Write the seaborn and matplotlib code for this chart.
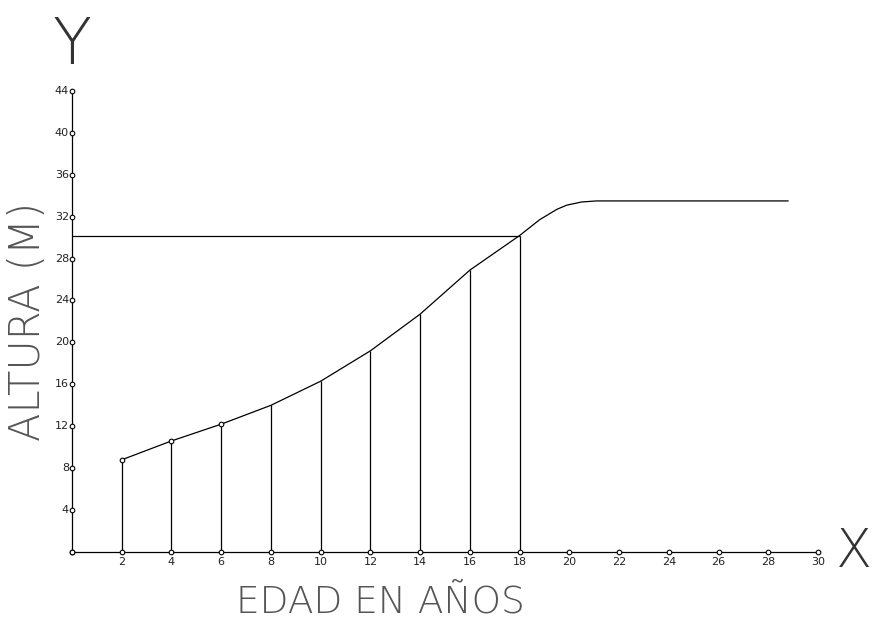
import numpy as np
import pandas as pd
import seaborn as sns
import matplotlib.pyplot as plt

# Datos: edad (años) y altura (m)
edad = [2, 4, 6, 8, 10, 12, 14, 16, 18]
altura = [8.8, 10.6, 12.2, 14.0, 16.3, 19.2, 22.7, 26.9, 30.2]

# Tramo final de la curva (después de los 18 años)
edad_final = [18, 18.8, 19.5, 19.9, 20.5, 21.1, 28.8]
altura_final = [30.2, 31.7, 32.7, 33.1, 33.4, 33.5, 33.5]

ticks_x = list(range(0, 31, 2))
ticks_y = list(range(0, 45, 4))

sns.set_style("white")
plt.rcParams['font.family'] = ['DejaVu Sans']

fig = plt.figure(figsize=(8.74, 6.21), dpi=100)
ax = fig.add_axes([0, 0, 1, 1])

curva = pd.DataFrame({'edad': edad + edad_final[1:], 'altura': altura + altura_final[1:]})
sns.lineplot(data=curva, x='edad', y='altura', color='black', linewidth=0.9, ax=ax, sort=False)

# lineas verticales desde el eje hasta la curva
ax.vlines(edad, 0, altura, color='black', linewidth=0.9)
# linea horizontal a la altura de los 18 años
ax.hlines(altura[-1], 0, edad[-1], color='black', linewidth=0.9)

# ejes
ax.plot([0, ticks_x[-1]], [0, 0], color='black', linewidth=0.9)
ax.plot([0, 0], [0, ticks_y[-1]], color='black', linewidth=0.9)

# circulitos de las marcas
marcas = pd.DataFrame({'x': ticks_x + [0] * len(ticks_y), 'y': [0] * len(ticks_x) + ticks_y})
sns.scatterplot(data=marcas, x='x', y='y', marker='o', s=11, facecolor='white',
                edgecolor='black', linewidth=0.8, ax=ax, zorder=5)
puntos = pd.DataFrame({'x': edad[:3], 'y': altura[:3]})
sns.scatterplot(data=puntos, x='x', y='y', marker='o', s=11, facecolor='white',
                edgecolor='black', linewidth=0.8, ax=ax, zorder=5)

for t in ticks_x[1:]:
    ax.text(t, -0.45, str(t), ha='center', va='top', fontsize=8, color='#222')
for t in ticks_y[1:]:
    ax.text(-0.12, t, str(t), ha='right', va='center', fontsize=8, color='#222')

ax.text(-1.8, 22, 'ALTURA (M)', rotation=90, ha='center', va='center',
        fontsize=30, fontweight='light', color='#555')
ax.text(12.4, -4.75, 'EDAD EN AÑOS', ha='center', va='center',
        fontsize=27, fontweight='light', color='#555')
ax.text(0, 48.3, 'Y', ha='center', va='center', fontsize=46, fontweight='light', color='#333')
ax.text(31.45, 0, 'X', ha='center', va='center', fontsize=38, fontweight='light', color='#333')

ax.set_xlim(-2.895, 32.25)
ax.set_ylim(-6.58, 52.67)
ax.axis('off')
ax.set_xlabel('')
ax.set_ylabel('')

fig.savefig('out.png', dpi=100)
